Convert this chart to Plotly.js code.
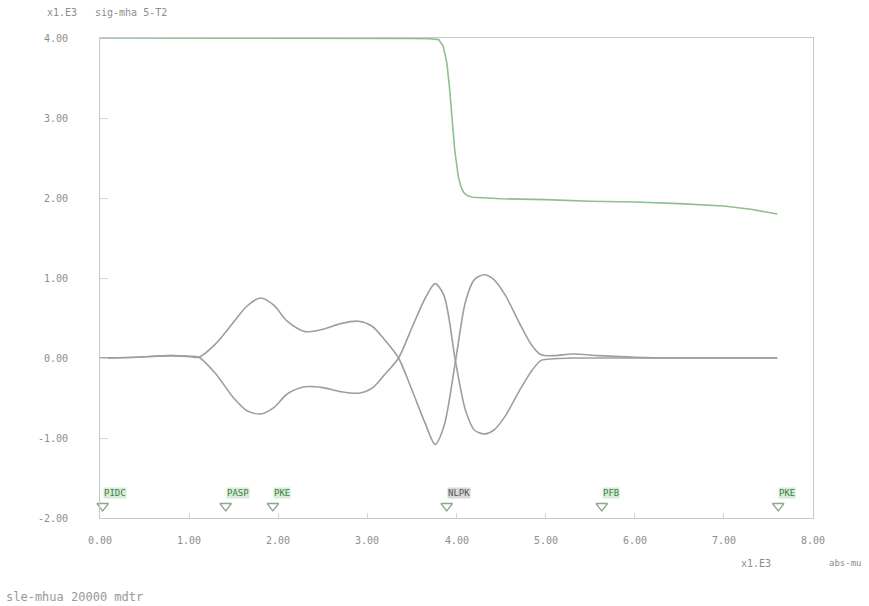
<!DOCTYPE html>
<html>
<head>
<meta charset="utf-8">
<script src="https://cdn.plot.ly/plotly-3.0.1.min.js"></script>
<style>html,body{margin:0;padding:0;background:#fff;}#chart{width:869px;height:606px;}</style>
</head>
<body>
<div id="chart"></div>
<script>
// Step curve (green) values, x in units of 1E3
const stepX = [0, 1, 2, 3, 3.5, 3.7, 3.8, 3.85, 3.89, 3.92, 3.95, 3.98, 4.02, 4.05, 4.08, 4.12, 4.18, 4.5, 5, 5.5, 6, 6.5, 7, 7.3, 7.6];
const stepY = [4.0, 4.0, 4.0, 4.0, 3.995, 3.99, 3.98, 3.9, 3.7, 3.4, 3.0, 2.6, 2.27, 2.14, 2.07, 2.03, 2.01, 1.99, 1.98, 1.96, 1.95, 1.93, 1.9, 1.86, 1.8];

// Oscillating pair
const waveX = [0, 0.4, 0.8, 1.0, 1.11, 1.3, 1.5, 1.65, 1.8, 1.95, 2.1, 2.3, 2.5, 2.7, 2.9, 3.05, 3.2, 3.35, 3.5, 3.65, 3.76, 3.86, 3.99, 4.1, 4.2, 4.31, 4.42, 4.55, 4.7, 4.85, 4.95, 5.1, 5.3, 5.6, 6.0, 6.5, 7.0, 7.6];
const waveA = [0, 0.01, 0.03, 0.02, 0.01, 0.18, 0.45, 0.65, 0.75, 0.66, 0.46, 0.33, 0.36, 0.43, 0.46, 0.40, 0.22, 0.0, -0.4, -0.82, -1.08, -0.85, -0.03, 0.7, 0.98, 1.04, 0.98, 0.78, 0.45, 0.15, 0.04, 0.03, 0.05, 0.03, 0.01, 0.0, 0.0, 0.0];
const waveB = [0, 0.01, 0.03, 0.02, 0.01, -0.2, -0.5, -0.66, -0.70, -0.62, -0.45, -0.36, -0.37, -0.42, -0.44, -0.38, -0.2, 0.0, 0.38, 0.75, 0.93, 0.78, -0.05, -0.65, -0.9, -0.95, -0.9, -0.72, -0.42, -0.15, -0.03, -0.01, 0.0, 0.0, 0.0, 0.0, 0.0, 0.0];

// Event markers
const markX = [0.03, 1.41, 1.94, 3.89, 5.63, 7.61];
const markLabels = ["PIDC", "PASP", "PKE", "NLPK", "PFB", "PKE"];
const markY = -1.85;
const labelY = -1.69;

const xTicks = [0, 1, 2, 3, 4, 5, 6, 7, 8];
const xTickText = ["0.00", "1.00", "2.00", "3.00", "4.00", "5.00", "6.00", "7.00", "8.00"];
const yTicks = [-2, -1, 0, 1, 2, 3, 4];
const yTickText = ["-2.00", "-1.00", "0.00", "1.00", "2.00", "3.00", "4.00"];

const gray = '#9e9e9e';
const mono = 'DejaVu Sans Mono, monospace';
const font = {family: mono, size: 10, color: '#8c8c8c'};

const traces = [
  {x: stepX, y: stepY, mode: 'lines', line: {color: '#8cc08c', width: 1.6}, hoverinfo: 'skip'},
  {x: waveX, y: waveA, mode: 'lines', line: {color: gray, width: 1.6, shape: 'spline', smoothing: 0.8}, hoverinfo: 'skip'},
  {x: waveX, y: waveB, mode: 'lines', line: {color: gray, width: 1.6, shape: 'spline', smoothing: 0.8}, hoverinfo: 'skip'},
  {x: markX, y: markX.map(() => markY), mode: 'markers', cliponaxis: false,
   marker: {symbol: 'triangle-down-open', size: 10, color: '#8aa88a', line: {width: 1.3}}, hoverinfo: 'skip'}
];

const annotations = markLabels.map((t, i) => ({
  x: markX[i], y: labelY, xref: 'x', yref: 'y', text: t, showarrow: false,
  xanchor: 'left', yanchor: 'middle', xshift: 0,
  font: {family: mono, size: 9, color: i === 3 ? '#555' : '#3f7f3f'},
  bgcolor: i === 3 ? '#d8d8d8' : '#d6ecd6', borderpad: 0
}));
// Tick labels drawn as annotations for exact offsets
yTicks.forEach((v, i) => annotations.push({
  xref: 'paper', yref: 'y', x: 0, y: v, xanchor: 'right', yanchor: 'middle', xshift: -30,
  text: yTickText[i], showarrow: false, font: font
}));
xTicks.forEach((v, i) => annotations.push({
  xref: 'x', yref: 'paper', x: v, y: 0, xanchor: 'center', yanchor: 'middle', yshift: -22,
  text: xTickText[i], showarrow: false, font: font
}));
annotations.push(
  {xref: 'paper', yref: 'paper', x: -0.053, y: 1.054, xanchor: 'center', yanchor: 'middle', text: 'x1.E3', showarrow: false, font: font},
  {xref: 'paper', yref: 'paper', x: -0.01, y: 1.054, xanchor: 'left', yanchor: 'middle', text: 'sig-mha 5-T2', showarrow: false, font: font},
  {xref: 'paper', yref: 'paper', x: 0.92, y: -0.094, xanchor: 'center', yanchor: 'middle', text: 'x1.E3', showarrow: false, font: font},
  {xref: 'paper', yref: 'paper', x: 1.0, y: -0.094, xanchor: 'left', yanchor: 'middle', xshift: 14, text: 'abs-mu', showarrow: false, font: {family: mono, size: 9, color: '#8c8c8c'}},
  {xref: 'paper', yref: 'paper', x: 0, y: -0.165, xanchor: 'left', yanchor: 'middle', xshift: -96, text: 'sle-mhua 20000 mdtr', showarrow: false, font: {family: mono, size: 12, color: '#999'}}
);

const layout = {
  width: 869, height: 606,
  margin: {l: 100, r: 56, t: 38, b: 88},
  paper_bgcolor: '#fff', plot_bgcolor: '#fff',
  showlegend: false,
  xaxis: {range: [0, 8], tickvals: xTicks, showticklabels: false, showgrid: false, zeroline: false,
          showline: true, linecolor: '#c8c8c8', linewidth: 1, mirror: true,
          ticks: 'inside', ticklen: 5, tickcolor: '#d4d4d4'},
  yaxis: {range: [-2, 4], tickvals: yTicks, showticklabels: false, showgrid: false, zeroline: false,
          showline: true, linecolor: '#c8c8c8', linewidth: 1, mirror: true,
          ticks: 'inside', ticklen: 8, tickcolor: '#d4d4d4'},
  annotations: annotations
};

Plotly.newPlot('chart', traces, layout, {displayModeBar: false, staticPlot: true});
</script>
</body>
</html>
